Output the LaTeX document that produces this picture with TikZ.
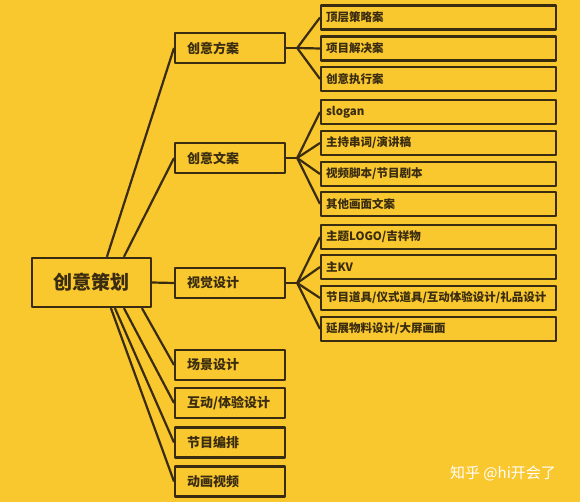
\documentclass[tikz,border=0pt]{standalone}
\usepackage{fontspec}
\setmainfont{Noto Sans CJK SC}
\usetikzlibrary{calc,positioning}
\definecolor{bgyellow}{RGB}{249,199,46}
\definecolor{ink}{RGB}{58,44,16}

\begin{document}
\begin{tikzpicture}[x=1pt,y=-1pt,line width=2.2pt,line join=round,ink]
    \tikzstyle{root}=[draw, minimum width=119pt, minimum height=49pt, font=\fontsize{19}{19}\selectfont\bfseries]
    \tikzstyle{topic}=[draw, anchor=west, text width=86pt, inner xsep=12pt, minimum height=30pt, align=left, font=\fontsize{13}{13}\selectfont\bfseries]
    \tikzstyle{leaf}=[draw, anchor=west, text width=225pt, inner xsep=5pt, minimum height=24pt, align=left, font=\fontsize{11.5}{11.5}\selectfont\bfseries]

    \fill[bgyellow] (0,0) rectangle (580,502);
    \useasboundingbox (0,0) rectangle (580,502);

    \node[root]  (0) at (91.5,282.5) {创意策划};

    \node[topic] (1) at (174,48)    {创意方案};
    \node[topic] (2) at (174,158)   {创意文案};
    \node[topic] (3) at (174,283)   {视觉设计};
    \node[topic] (4) at (174,365)   {场景设计};
    \node[topic] (5) at (174,403)   {互动/体验设计};
    \node[topic] (6) at (174,442.5) {节目编排};
    \node[topic] (7) at (174,481.5) {动画视频};

    \node[leaf]  (11) at (320,17.5) {顶层策略案};
    \node[leaf]  (12) at (320,48.5) {项目解决案};
    \node[leaf]  (13) at (320,79)   {创意执行案};
    \node[leaf]  (21) at (320,112)  {slogan};
    \node[leaf]  (22) at (320,143)  {主持串词/演讲稿};
    \node[leaf]  (23) at (320,174)  {视频脚本/节目剧本};
    \node[leaf]  (24) at (320,204)  {其他画面文案};
    \node[leaf]  (31) at (320,237)  {主题LOGO/吉祥物};
    \node[leaf]  (32) at (320,267)  {主KV};
    \node[leaf]  (33) at (320,298)  {节目道具/仪式道具/互动体验设计/礼品设计};
    \node[leaf]  (34) at (320,329)  {延展物料设计/大屏画面};

    \node[text=white, font=\fontsize{15}{15}\selectfont] (wm) at (503,473) {知乎 @hi开会了};

    \coordinate (0n1) at ([xshift=76pt]0.north west);
    \coordinate (0n2) at ([xshift=93pt]0.north west);
    \coordinate (0s4) at ([xshift=111pt]0.south west);
    \coordinate (0s5) at ([xshift=93pt]0.south west);
    \coordinate (0s6) at ([xshift=84pt]0.south west);
    \coordinate (0s7) at ([xshift=80pt]0.south west);

    \draw (0n1) -- (1.west);
    \draw (0n2) -- (2.west);
    \draw (0.east) -- (3.west);
    \foreach \i in {4,5,6,7}
      \draw (0s\i) -- (\i.west);

    \foreach \p/\kids in {1/{11,12,13},2/{21,22,23,24},3/{31,32,33,34}} {
      \coordinate (\p f) at ([xshift=11pt]\p.east);
      \draw (\p.east) -- (\p f);
      \foreach \k in \kids
        \draw (\p f) -- (\k.west);
    }

\end{tikzpicture}
\end{document}
